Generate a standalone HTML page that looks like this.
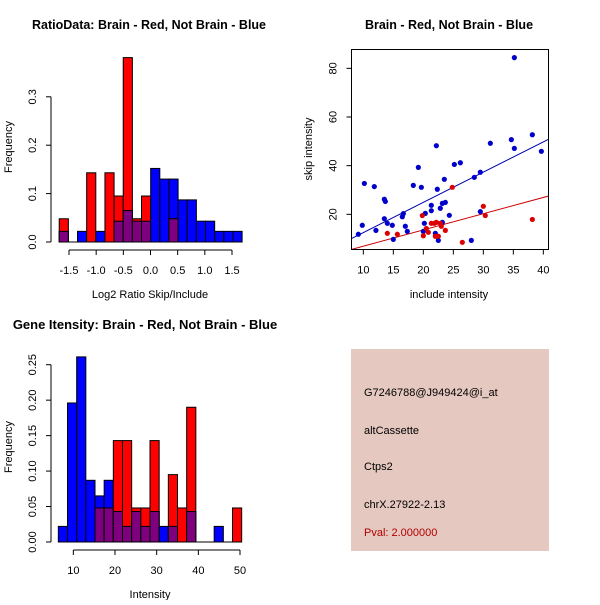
<!DOCTYPE html>
<html><head><meta charset="utf-8"><style>
body{margin:0;background:#fff}
svg text{font-family:"Liberation Sans",sans-serif;font-size:11px;fill:#000}
</style></head><body>
<svg id="s" width="600" height="600" viewBox="0 0 600 600">
<rect width="600" height="600" fill="#fff"/>
<text x="149" y="29" text-anchor="middle" font-weight="bold" style="font-size:12.5px">RatioData: Brain - Red, Not Brain - Blue</text>
<text x="449" y="29" text-anchor="middle" font-weight="bold" style="font-size:12.5px">Brain - Red, Not Brain - Blue</text>
<text x="145" y="329" text-anchor="middle" font-weight="bold" style="font-size:13px">Gene Itensity: Brain - Red, Not Brain - Blue</text>
<text x="150" y="298" text-anchor="middle">Log2 Ratio Skip/Include</text>
<text x="150" y="598" text-anchor="middle">Intensity</text>
<text x="449" y="298" text-anchor="middle">include intensity</text>
<text transform="translate(12,147) rotate(-90)" text-anchor="middle">Frequency</text>
<text transform="translate(12,447) rotate(-90)" text-anchor="middle">Frequency</text>
<text transform="translate(312,149) rotate(-90)" text-anchor="middle">skip intensity</text>
<rect x="351" y="349" width="198" height="202" fill="#E5C8C0"/>
<text x="364" y="396">G7246788@J949424@i_at</text>
<text x="364" y="434">altCassette</text>
<text x="364" y="470">Ctps2</text>
<text x="364" y="508">chrX.27922-2.13</text>
<text x="364" y="536" style="fill:#B00000">Pval: 2.000000</text>
</svg>
<script>
// Ratio histogram data
const ratioBinStart = -1.68, ratioBinWidth = 0.1683;
const ratioRed  = [0.048,0,0,0.143,0,0.143,0.095,0.381,0.048,0.095,0,0,0.048,0,0,0,0,0,0,0];
const ratioBlue = [0.022,0,0.022,0,0.022,0,0.043,0.065,0.043,0.043,0.152,0.13,0.13,0.087,0.087,0.043,0.043,0.022,0.022,0.022];
const ratioXTicks = [-1.5,-1.0,-0.5,0.0,0.5,1.0,1.5];
const ratioXLabels = ["-1.5","-1.0","-0.5","0.0","0.5","1.0","1.5"];
const ratioYTicks = [0,0.1,0.2,0.3];
const ratioYLabels = ["0.0","0.1","0.2","0.3"];
// Intensity histogram data
const intBinStart = 6.4, intBinWidth = 2.2;
const intRed  = [0,0,0,0,0.048,0.048,0.143,0.143,0.048,0.048,0.143,0,0.095,0.048,0.19,0,0,0,0,0.048];
const intBlue = [0.022,0.196,0.261,0.087,0.065,0.087,0.043,0.022,0.043,0.022,0.043,0.022,0.022,0,0.043,0,0,0.022,0,0];
const intXTicks = [10,20,30,40,50];
const intYTicks = [0,0.05,0.1,0.15,0.2,0.25];
const intYLabels = ["0.00","0.05","0.10","0.15","0.20","0.25"];
// Scatter data
const blueX = [9.17,9.83,10.17,12.1,11.83,13.5,13.67,13.5,14.0,14.83,15.0,16.5,16.67,17.0,17.33,18.33,19.17,19.67,20.0,20.17,20.33,21.33,21.33,22.17,22.33,22.0,22.5,22.83,23.17,23.17,23.5,23.67,24.33,25.17,26.17,28.5,29.5,29.5,28.0,31.17,34.67,35.17,35.17,38.17,39.67];
const blueY = [11.8,15.5,32.7,13.4,31.4,26.2,25.3,18.2,16.3,15.5,9.7,19.0,20.3,15.1,13.0,31.9,39.3,31.1,13.0,16.3,20.4,23.7,21.5,48.2,30.3,12.2,9.3,22.5,16.7,24.5,34.4,24.9,19.6,40.5,41.2,35.2,37.3,21.1,9.3,49.2,50.7,47.1,84.4,52.7,45.9];
const redX = [14.0,15.67,19.83,20.0,20.5,20.83,21.33,21.83,22.17,22.0,22.5,22.83,23.0,23.67,24.83,26.5,30.0,30.33,38.17];
const redY = [12.2,11.8,19.5,11.2,14.2,12.6,16.3,16.3,16.7,11.0,11.0,16.3,15.1,13.4,31.1,8.5,23.3,19.5,17.9];
const blueFit = [0.09,1.242]; // intercept, slope
const redFit = [0.22,0.668];
const scXTicks = [10,15,20,25,30,35,40];
const scYTicks = [20,40,60,80];

const svg = document.getElementById('s');
const NS = 'http://www.w3.org/2000/svg';
function mk(tag, attrs){const e=document.createElementNS(NS,tag);for(const k in attrs)e.setAttribute(k,attrs[k]);svg.appendChild(e);return e;}

function hist(prefix, start, width, red, blue, sx, sy, y0){
  for(let i=0;i<red.length;i++){
    const x0=sx(start+i*width), x1=sx(start+(i+1)*width);
    const r=red[i], b=blue[i];
    if(b>0){const e=mk('rect',{x:x0,y:sy(b),width:x1-x0,height:y0-sy(b),fill:'#0000FF',stroke:'#000','stroke-width':1});
      
      }
    if(r>0){const e=mk('rect',{x:x0,y:sy(r),width:x1-x0,height:y0-sy(r),fill:'#FF0000',stroke:'#000','stroke-width':1});
      
      }
    if(r>0&&b>0){const m=Math.min(r,b);const e=mk('rect',{x:x0,y:sy(m),width:x1-x0,height:y0-sy(m),fill:'#7F007F',stroke:'#000','stroke-width':1});
      
      }
  }
}
function xAxis(prefix, ticks, labels, sx, yLine){
  const l=mk('line',{x1:sx(ticks[0]),x2:sx(ticks[ticks.length-1]),y1:yLine,y2:yLine,stroke:'#000'});
  
  
  ticks.forEach((t,i)=>{mk('line',{x1:sx(t),x2:sx(t),y1:yLine,y2:yLine+5,stroke:'#000'});
    const tx=mk('text',{x:sx(t),y:yLine+24,'text-anchor':'middle'});tx.textContent=labels[i];
    
    });
}
function yAxis(prefix, ticks, labels, sy, xLine){
  const l=mk('line',{x1:xLine,x2:xLine,y1:sy(ticks[0]),y2:sy(ticks[ticks.length-1]),stroke:'#000'});
  
  
  ticks.forEach((t,i)=>{mk('line',{x1:xLine-5,x2:xLine,y1:sy(t),y2:sy(t),stroke:'#000'});
    const tx=mk('text',{transform:`translate(${xLine-15},${sy(t)}) rotate(-90)`,'text-anchor':'middle'});tx.textContent=labels[i];
    
    });
}

// Panel 1
{const sx=v=>150.5+v*54.33, sy=v=>242-v*484;
 hist('ratio',ratioBinStart,ratioBinWidth,ratioRed,ratioBlue,sx,sy,242);
 const b=mk('line',{x1:sx(ratioBinStart),x2:sx(ratioBinStart+20*ratioBinWidth),y1:242,y2:242,stroke:'#000'});
 
 xAxis('ratio',ratioXTicks,ratioXLabels,sx,250);
 yAxis('ratio',ratioYTicks,ratioYLabels,sy,51);}
// Panel 3
{const sx=v=>73.33+(v-10)*4.167, sy=v=>542-v*709.2;
 hist('intensity',intBinStart,intBinWidth,intRed,intBlue,sx,sy,542);
 const b=mk('line',{x1:sx(intBinStart),x2:sx(intBinStart+20*intBinWidth),y1:542,y2:542,stroke:'#000'});
 
 xAxis('intensity',intXTicks,intXTicks.map(String),sx,550);
 yAxis('intensity',intYTicks,intYLabels,sy,51);}
// Panel 2
{const sx=v=>363.33+(v-10)*6, sy=v=>214.33-(v-20)*2.433;
 const box=mk('rect',{x:351.5,y:49.5,width:197,height:200,fill:'none',stroke:'#000'});
 
 xAxis('scatter',scXTicks,scXTicks.map(String),sx,249.5);
 yAxis('scatter',scYTicks,scYTicks.map(String),sy,351.5);
 const g=document.createElementNS(NS,'g');g.setAttribute('clip-path','url(#clip)');
 const defs=mk('defs',{});defs.innerHTML='<clipPath id="clip"><rect x="352" y="50" width="196" height="199"/></clipPath>';
 svg.appendChild(g);
 const xa=8.07, xb=40.83;
 [[blueFit,'#0000B0','blue'],[redFit,'#CC0000','red']].forEach(([f,c,n])=>{
   const l=document.createElementNS(NS,'line');
   l.setAttribute('x1',sx(xa));l.setAttribute('x2',sx(xb));
   l.setAttribute('y1',sy(f[0]+f[1]*xa));l.setAttribute('y2',sy(f[0]+f[1]*xb));
   l.setAttribute('stroke',c);g.appendChild(l);
   
   });
 blueX.forEach((x,i)=>{const c=mk('circle',{cx:sx(x),cy:sy(blueY[i]),r:2.6,fill:'#0000CC'});
   
   });
 redX.forEach((x,i)=>{const c=mk('circle',{cx:sx(x),cy:sy(redY[i]),r:2.6,fill:'#DD0000'});
   
   });
}
</script>
</body></html>
